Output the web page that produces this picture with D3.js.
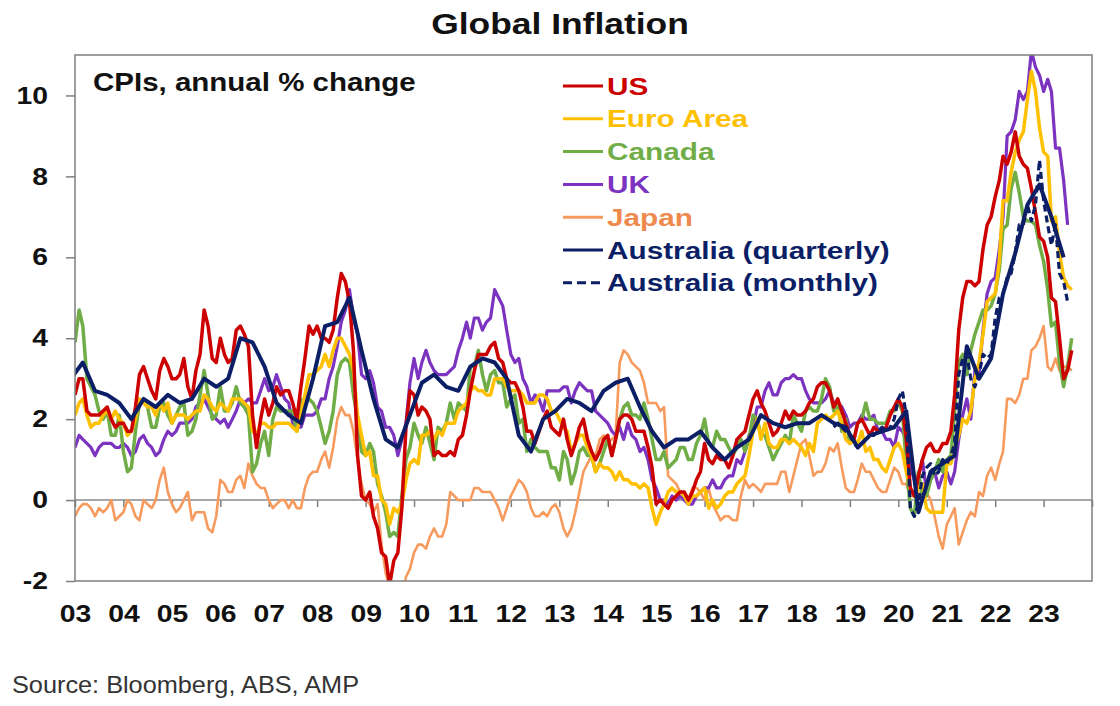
<!DOCTYPE html>
<html>
<head>
<meta charset="utf-8">
<script src="https://cdn.jsdelivr.net/npm/d3@7"></script>
<style>
  body { margin: 0; background: #fff; }
  svg { display: block; }
  text { font-family: Arial, "Liberation Sans", sans-serif; }
</style>
</head>
<body>
<div id="chart"></div>
<script>
const w = 1120;
const h = 706;

// plot box
const margin = { left: 75, top: 55, right: 28, bottom: 125 };
const stretch = 1.18; // text in the source picture is a bit wide

// ---- data (annual % change) ----
// monthly, from Jan 2003
const usCpi = [
  2.6, 3.0, 3.0, 2.2, 2.1, 2.1, 2.1, 2.2, 2.3, 2.0, 1.8, 1.9,
  1.9, 1.7, 1.7, 2.3, 3.1, 3.3, 3.0, 2.7, 2.5, 3.2, 3.5, 3.3,
  3.0, 3.0, 3.1, 3.5, 2.8, 2.5, 3.2, 3.6, 4.7, 4.3, 3.5, 3.4,
  4.0, 3.6, 3.4, 3.5, 4.2, 4.3, 4.1, 3.8, 2.1, 1.3, 2.0, 2.5,
  2.1, 2.4, 2.8, 2.6, 2.7, 2.7, 2.4, 2.0, 2.8, 3.5, 4.3, 4.1,
  4.3, 4.0, 4.0, 3.9, 4.2, 5.0, 5.6, 5.4, 4.9, 3.7, 1.1, 0.1,
  0.0, 0.2, -0.4, -0.7, -1.3, -1.4, -2.1, -1.5, -1.3, -0.2, 1.8, 2.7,
  2.6, 2.1, 2.3, 2.2, 2.0, 1.1, 1.2, 1.1, 1.1, 1.2, 1.1, 1.5,
  1.6, 2.1, 2.7, 3.2, 3.6, 3.6, 3.6, 3.8, 3.9, 3.5, 3.4, 3.0,
  2.9, 2.9, 2.7, 2.3, 1.7, 1.7, 1.4, 1.7, 2.0, 2.2, 1.8, 1.7,
  1.6, 2.0, 1.5, 1.1, 1.4, 1.8, 2.0, 1.5, 1.2, 1.0, 1.2, 1.5,
  1.6, 1.1, 1.5, 2.0, 2.1, 2.1, 2.0, 1.7, 1.7, 1.7, 1.3, 0.8,
  -0.1, 0.0, -0.1, -0.2, 0.0, 0.1, 0.2, 0.2, 0.0, 0.2, 0.5, 0.7,
  1.4, 1.0, 0.9, 1.1, 1.0, 1.0, 0.8, 1.1, 1.5, 1.6, 1.7, 2.1,
  2.5, 2.7, 2.4, 2.2, 1.9, 1.6, 1.7, 1.9, 2.2, 2.0, 2.2, 2.1,
  2.1, 2.2, 2.4, 2.5, 2.8, 2.9, 2.9, 2.7, 2.3, 2.5, 2.2, 1.9,
  1.6, 1.5, 1.9, 2.0, 1.8, 1.6, 1.8, 1.7, 1.7, 1.8, 2.1, 2.3,
  2.5, 2.3, 1.5, 0.3, 0.1, 0.6, 1.0, 1.3, 1.4, 1.2, 1.2, 1.4,
  1.4, 1.7, 2.6, 4.2, 5.0, 5.4, 5.4, 5.3, 5.4, 6.2, 6.8, 7.0,
  7.5, 7.9, 8.5, 8.3, 8.6, 9.1, 8.5, 8.3, 8.2, 7.7, 7.1, 6.5,
  6.4, 6.0, 5.0, 4.9, 4.0, 3.0, 3.2, 3.7
];

const euroCpi = [
  2.1, 2.4, 2.5, 2.1, 1.8, 1.9, 1.9, 2.1, 2.2, 2.0, 2.2, 2.0,
  1.9, 1.6, 1.7, 2.0, 2.5, 2.4, 2.3, 2.3, 2.1, 2.4, 2.2, 2.4,
  1.9, 2.1, 2.1, 2.1, 2.0, 2.1, 2.2, 2.2, 2.6, 2.5, 2.3, 2.2,
  2.4, 2.3, 2.2, 2.5, 2.5, 2.5, 2.4, 2.3, 1.7, 1.6, 1.9, 1.9,
  1.8, 1.8, 1.9, 1.9, 1.9, 1.9, 1.8, 1.7, 2.1, 2.6, 3.1, 3.1,
  3.2, 3.3, 3.6, 3.3, 3.7, 4.0, 4.0, 3.8, 3.6, 3.2, 2.1, 1.6,
  1.1, 1.2, 0.6, 0.6, 0.0, -0.1, -0.6, -0.2, -0.3, -0.1, 0.5, 0.9,
  1.0, 0.9, 1.6, 1.6, 1.7, 1.5, 1.7, 1.6, 1.9, 1.9, 1.9, 2.2,
  2.3, 2.4, 2.7, 2.8, 2.7, 2.7, 2.6, 2.6, 3.0, 3.0, 3.0, 2.8,
  2.7, 2.7, 2.7, 2.6, 2.4, 2.4, 2.4, 2.6, 2.6, 2.5, 2.2, 2.2,
  2.0, 1.8, 1.7, 1.2, 1.4, 1.6, 1.6, 1.3, 1.1, 0.7, 0.9, 0.8,
  0.8, 0.7, 0.5, 0.7, 0.5, 0.5, 0.4, 0.4, 0.3, 0.4, 0.3, -0.2,
  -0.6, -0.3, -0.1, 0.2, 0.3, 0.2, 0.2, 0.1, -0.1, 0.1, 0.1, 0.2,
  0.3, -0.2, 0.0, -0.2, -0.1, 0.1, 0.2, 0.2, 0.4, 0.5, 0.6, 1.1,
  1.7, 2.0, 1.5, 1.9, 1.4, 1.3, 1.3, 1.5, 1.5, 1.4, 1.5, 1.4,
  1.3, 1.1, 1.4, 1.2, 1.9, 2.0, 2.1, 2.0, 2.1, 2.2, 1.9, 1.5,
  1.4, 1.5, 1.4, 1.7, 1.2, 1.3, 1.0, 1.0, 0.8, 0.7, 1.0, 1.3,
  1.4, 1.2, 0.7, 0.3, 0.1, 0.3, 0.4, -0.2, -0.3, -0.3, -0.3, -0.3,
  0.9, 0.9, 1.3, 1.6, 2.0, 1.9, 2.2, 3.0, 3.4, 4.1, 4.9, 5.0,
  5.1, 5.9, 7.4, 7.4, 8.1, 8.6, 8.9, 9.1, 9.9, 10.6, 10.1, 9.2,
  8.6, 8.5, 6.9, 7.0, 6.1, 5.5, 5.3, 5.2
];

const canadaCpi = [
  3.9, 4.7, 4.3, 3.0, 2.8, 2.6, 2.2, 2.0, 2.2, 1.6, 1.6, 2.1,
  1.2, 0.7, 0.8, 1.7, 2.4, 2.5, 2.3, 1.8, 1.8, 2.3, 2.4, 2.1,
  1.9, 2.1, 2.3, 2.4, 1.6, 1.7, 2.0, 2.6, 3.2, 2.6, 2.0, 2.1,
  2.8, 2.2, 2.2, 2.4, 2.8, 2.4, 2.3, 2.1, 0.7, 0.9, 1.4, 1.7,
  1.1, 2.0, 2.3, 2.2, 2.2, 2.2, 2.2, 1.7, 2.5, 2.4, 2.5, 2.4,
  2.2, 1.8, 1.4, 1.7, 2.2, 3.1, 3.4, 3.5, 3.4, 2.6, 2.0, 1.2,
  1.1, 1.4, 1.2, 0.4, 0.1, -0.3, -0.9, -0.8, -0.9, 0.1, 1.0, 1.3,
  1.9, 1.6, 1.4, 1.8, 1.4, 1.0, 1.8, 1.7, 1.9, 2.4, 2.0, 2.4,
  2.3, 2.2, 3.3, 3.3, 3.7, 3.1, 2.7, 3.1, 3.2, 2.9, 2.9, 2.3,
  2.5, 2.6, 1.9, 2.0, 1.2, 1.5, 1.3, 1.2, 1.2, 1.2, 0.8, 0.8,
  0.5, 1.2, 1.0, 0.4, 0.7, 1.2, 1.3, 1.1, 1.1, 0.7, 0.9, 1.2,
  1.5, 1.1, 1.5, 2.0, 2.3, 2.4, 2.1, 2.1, 2.0, 2.4, 2.0, 1.5,
  1.0, 1.0, 1.2, 0.8, 0.9, 1.0, 1.3, 1.3, 1.0, 1.0, 1.4, 1.6,
  2.0, 1.4, 1.3, 1.7, 1.5, 1.5, 1.3, 1.1, 1.3, 1.5, 1.2, 1.5,
  2.1, 2.0, 1.6, 1.6, 1.3, 1.0, 1.2, 1.4, 1.6, 1.4, 2.1, 1.9,
  1.7, 2.2, 2.3, 2.2, 2.2, 2.5, 3.0, 2.8, 2.2, 2.4, 1.7, 2.0,
  1.4, 1.5, 1.9, 2.0, 2.4, 2.0, 2.0, 1.9, 1.9, 1.9, 2.2, 2.2,
  2.4, 2.2, 0.9, -0.2, -0.4, 0.7, 0.1, 0.1, 0.5, 0.7, 1.0, 0.7,
  1.0, 1.1, 2.2, 3.4, 3.6, 3.1, 3.7, 4.1, 4.4, 4.7, 4.7, 4.8,
  5.1, 5.7, 6.7, 6.8, 7.7, 8.1, 7.6, 7.0, 6.9, 6.9, 6.8, 6.3,
  5.9, 5.2, 4.3, 4.4, 3.4, 2.8, 3.3, 4.0
];

const ukCpi = [
  1.3, 1.6, 1.5, 1.4, 1.3, 1.1, 1.3, 1.4, 1.4, 1.4, 1.3, 1.3,
  1.4, 1.3, 1.1, 1.2, 1.5, 1.6, 1.4, 1.3, 1.1, 1.2, 1.5, 1.7,
  1.6, 1.7, 1.9, 1.9, 1.9, 2.0, 2.3, 2.4, 2.5, 2.3, 2.1, 2.0,
  1.9, 2.0, 1.8, 2.0, 2.2, 2.5, 2.4, 2.5, 2.4, 2.4, 2.7, 3.0,
  2.7, 2.8, 3.1, 2.8, 2.5, 2.4, 1.9, 1.8, 1.8, 2.1, 2.1, 2.1,
  2.2, 2.5, 2.5, 3.0, 3.3, 3.8, 4.4, 4.7, 5.2, 4.5, 4.1, 3.1,
  3.0, 3.2, 2.9, 2.3, 2.2, 1.8, 1.8, 1.6, 1.1, 1.5, 1.9, 2.9,
  3.5, 3.0, 3.4, 3.7, 3.4, 3.2, 3.1, 3.1, 3.1, 3.2, 3.3, 3.7,
  4.0, 4.4, 4.0, 4.5, 4.5, 4.2, 4.4, 4.5, 5.2, 5.0, 4.8, 4.2,
  3.6, 3.4, 3.5, 3.0, 2.8, 2.4, 2.6, 2.5, 2.2, 2.7, 2.7, 2.7,
  2.7, 2.8, 2.8, 2.4, 2.7, 2.9, 2.8, 2.7, 2.7, 2.2, 2.1, 2.0,
  1.9, 1.7, 1.6, 1.8, 1.5, 1.9, 1.6, 1.5, 1.2, 1.3, 1.0, 0.5,
  0.3, 0.0, 0.0, -0.1, 0.1, 0.0, 0.1, 0.0, -0.1, -0.1, 0.1, 0.2,
  0.3, 0.3, 0.5, 0.3, 0.3, 0.5, 0.6, 0.6, 1.0, 0.9, 1.2, 1.6,
  1.8, 2.3, 2.3, 2.7, 2.9, 2.6, 2.6, 2.9, 3.0, 3.0, 3.1, 3.0,
  3.0, 2.7, 2.5, 2.4, 2.4, 2.4, 2.5, 2.7, 2.4, 2.4, 2.3, 2.1,
  1.8, 1.9, 1.9, 2.1, 2.0, 2.0, 2.1, 1.7, 1.7, 1.5, 1.5, 1.3,
  1.8, 1.7, 1.5, 0.8, 0.5, 0.6, 1.0, 0.2, 0.5, 0.7, 0.3, 0.6,
  0.7, 0.4, 0.7, 1.5, 2.1, 2.5, 2.0, 3.2, 3.1, 4.2, 5.1, 5.4,
  5.5, 6.2, 7.0, 9.0, 9.1, 9.4, 10.1, 9.9, 10.1, 11.1, 10.7, 10.5,
  10.1, 10.4, 10.1, 8.7, 8.7, 7.9, 6.8
];

const japanCpi = [
  -0.4, -0.2, -0.1, -0.1, -0.2, -0.4, -0.2, -0.3, -0.2, 0.0, -0.5, -0.4,
  -0.3, 0.0, -0.1, -0.4, -0.5, 0.0, -0.1, -0.2, 0.0, 0.5, 0.8, 0.2,
  -0.1, -0.3, -0.2, 0.0, 0.2, -0.5, -0.3, -0.3, -0.3, -0.7, -0.8, -0.4,
  0.5, 0.4, 0.2, 0.2, 0.5, 0.6, 0.3, 0.9, 0.6, 0.4, 0.3, 0.3,
  0.0, -0.2, -0.1, 0.0, 0.0, -0.2, 0.0, -0.2, -0.2, 0.3, 0.6, 0.7,
  0.7, 1.0, 1.2, 0.8, 1.3, 2.0, 2.3, 2.1, 2.1, 1.7, 1.0, 0.4,
  0.0, -0.1, -0.3, -0.1, -1.1, -1.8, -2.2, -2.2, -2.2, -2.5, -1.9, -1.7,
  -1.3, -1.1, -1.1, -1.2, -0.9, -0.7, -0.9, -0.9, -0.6, 0.2, 0.1, 0.0,
  0.0, 0.0, 0.0, 0.3, 0.3, 0.2, 0.2, 0.2, 0.0, -0.2, -0.5, -0.2,
  0.1, 0.3, 0.5, 0.4, 0.2, -0.2, -0.4, -0.4, -0.3, -0.4, -0.2, -0.1,
  -0.3, -0.7, -0.9, -0.7, -0.3, 0.2, 0.7, 0.9, 1.1, 1.1, 1.5, 1.6,
  1.4, 1.5, 1.6, 3.4, 3.7, 3.6, 3.4, 3.3, 3.2, 2.9, 2.4, 2.4,
  2.4, 2.2, 2.3, 0.6, 0.5, 0.4, 0.2, 0.2, 0.0, 0.3, 0.3, 0.2,
  0.0, 0.3, -0.1, -0.3, -0.5, -0.4, -0.4, -0.5, -0.5, 0.1, 0.5, 0.3,
  0.4, 0.3, 0.2, 0.4, 0.4, 0.4, 0.4, 0.7, 0.7, 0.2, 0.6, 1.0,
  1.4, 1.5, 1.1, 0.6, 0.7, 0.7, 0.9, 1.3, 1.2, 1.4, 0.8, 0.3,
  0.2, 0.2, 0.5, 0.9, 0.7, 0.7, 0.5, 0.3, 0.2, 0.2, 0.5, 0.8,
  0.7, 0.4, 0.4, 0.1, 0.1, 0.1, 0.3, 0.2, 0.0, -0.4, -0.9, -1.2,
  -0.6, -0.4, -0.2, -1.1, -0.8, -0.5, -0.3, -0.4, 0.2, 0.1, 0.6, 0.8,
  0.5, 0.9, 1.2, 2.5, 2.5, 2.4, 2.6, 3.0, 3.0, 3.7, 3.8, 4.0,
  4.3, 3.3, 3.2, 3.5, 3.2, 3.3, 3.3, 3.2
];

// quarterly, from Dec 2002
const ausQuarterly = [
  3.0,
  3.4, 2.7, 2.6, 2.4,
  2.0, 2.5, 2.3, 2.6,
  2.4, 2.5, 3.0, 2.8,
  3.0, 4.0, 3.9, 3.3,
  2.4, 2.1, 1.9, 3.0,
  4.3, 4.4, 5.0, 3.7,
  2.5, 1.5, 1.3, 2.1,
  2.9, 3.1, 2.8, 2.7,
  3.3, 3.5, 3.4, 3.0,
  1.6, 1.2, 2.0, 2.2,
  2.5, 2.4, 2.2, 2.7,
  2.9, 3.0, 2.3, 1.7,
  1.3, 1.5, 1.5, 1.7,
  1.3, 1.0, 1.3, 1.5,
  2.1, 1.9, 1.8, 1.9,
  1.9, 2.1, 1.9, 1.8,
  1.3, 1.6, 1.7, 1.8,
  2.2, -0.3, 0.7, 0.9,
  1.1, 3.8, 3.0, 3.5,
  5.1, 6.1, 7.3, 7.8,
  7.0, 6.0
];

// monthly indicator, from Sep 2018
const ausMonthly = [
  1.8, 1.9, 1.8, 1.7,
  1.6, 1.4, 1.3, 1.4, 1.5, 1.6, 1.6, 1.7, 1.8, 1.7, 1.8, 2.0,
  2.5, 2.7, 2.1, -0.2, -0.4, -0.1, 0.6, 0.8, 0.9, 0.6, 0.7, 1.0,
  0.9, 1.1, 1.4, 3.1, 3.5, 3.6, 3.0, 2.8, 3.1, 3.6, 3.5, 3.6,
  4.5, 5.0, 5.1, 5.5, 5.6, 6.1, 6.8, 6.8, 7.3, 6.9, 7.3, 8.4,
  7.4, 6.8, 6.3, 6.8, 5.6, 5.4, 4.9
];

const yTicks = [-2, 0, 2, 4, 6, 8, 10];

const series = [
  { name: "Japan", values: japanCpi, start: new Date(2003, 0, 1), step: 1, color: "#F79A5E", width: 2.6 },
  { name: "UK", values: ukCpi, start: new Date(2003, 0, 1), step: 1, color: "#7B33C0", width: 3.2 },
  { name: "Canada", values: canadaCpi, start: new Date(2003, 0, 1), step: 1, color: "#70AD47", width: 3.5 },
  { name: "Euro Area", values: euroCpi, start: new Date(2003, 0, 1), step: 1, color: "#FFC000", width: 3.5 },
  { name: "US", values: usCpi, start: new Date(2003, 0, 1), step: 1, color: "#CC0000", width: 3.5 },
  { name: "Australia (monthly)", values: ausMonthly, start: new Date(2018, 8, 1), step: 1, color: "#0C1F66", width: 3.2, dash: "7,4" },
  { name: "Australia (quarterly)", values: ausQuarterly, start: new Date(2002, 11, 1), step: 3, color: "#0C1F66", width: 4 }
];

const legendOrder = ["US", "Euro Area", "Canada", "UK", "Japan", "Australia (quarterly)", "Australia (monthly)"];

// ---- chart ----
const svg = d3.select("#chart")
    .append("svg")
    .attr("width", w)
    .attr("height", h);

const x = d3.scaleTime()
    .domain([new Date(2003, 0, 1), new Date(2024, 0, 1)])
    .range([margin.left, w - margin.right]);

const y = d3.scaleLinear()
    .domain([-2, 11])
    .range([h - margin.bottom, margin.top]);

const plotW = x.range()[1] - x.range()[0];
const plotH = y.range()[0] - y.range()[1];

// title
svg.append("text")
    .attr("transform", "translate(560,34) scale(" + stretch + ",1)")
    .attr("text-anchor", "middle")
    .attr("font-size", 30)
    .attr("font-weight", "bold")
    .attr("fill", "#111")
    .text("Global Inflation");

// zero line + year ticks
const zeroAxis = svg.append("g")
    .attr("transform", "translate(0," + y(0) + ")")
    .call(d3.axisBottom(x).ticks(d3.timeYear.every(1)).tickSize(7).tickFormat(""));
zeroAxis.select(".domain").remove();
zeroAxis.selectAll("line").attr("stroke", "#7f7f7f").attr("stroke-width", 1.5);
svg.append("line")
    .attr("x1", x.range()[0]).attr("x2", x.range()[1])
    .attr("y1", y(0)).attr("y2", y(0))
    .attr("stroke", "#8a8a8a")
    .attr("stroke-width", 1.5);

// year labels under the plot
const yearAxis = svg.append("g")
    .attr("transform", "translate(0," + (h - margin.bottom) + ")")
    .call(d3.axisBottom(x)
        .tickValues(d3.timeYear.range(new Date(2003, 0, 1), new Date(2024, 0, 1)))
        .tickSize(0)
        .tickPadding(24)
        .tickFormat(d3.timeFormat("%y")));
yearAxis.select(".domain").remove();
yearAxis.selectAll("text")
    .attr("font-size", 24)
    .attr("font-weight", "bold")
    .attr("font-family", "Arial, 'Liberation Sans', sans-serif")
    .attr("fill", "#111")
    .attr("transform", "scale(" + stretch + ",1)");

// y axis (plain hyphen for negatives, as in the source)
const yAxis = svg.append("g")
    .attr("transform", "translate(" + margin.left + ",0)")
    .call(d3.axisLeft(y).tickValues(yTicks).tickSize(9).tickPadding(18).tickFormat(d => String(d)));
yAxis.select(".domain").remove();
yAxis.selectAll("line").attr("stroke", "#7f7f7f").attr("stroke-width", 1.5);
yAxis.selectAll("text")
    .attr("font-size", 24)
    .attr("font-weight", "bold")
    .attr("font-family", "Arial, 'Liberation Sans', sans-serif")
    .attr("fill", "#111")
    .each(function() {
        const t = d3.select(this);
        const tx = +t.attr("x");
        t.attr("x", 0).attr("transform", "translate(" + tx + ",0) scale(" + stretch + ",1)");
    });

// clip for the lines
svg.append("clipPath")
    .attr("id", "plotClip")
    .append("rect")
    .attr("x", x.range()[0])
    .attr("y", y.range()[1])
    .attr("width", plotW)
    .attr("height", plotH);

const line = d3.line()
    .x(d => x(d.date))
    .y(d => y(d.v));

const lines = svg.append("g").attr("clip-path", "url(#plotClip)");

series.forEach(s => {
    const pts = s.values.map((v, i) => ({ date: d3.timeMonth.offset(s.start, i * s.step), v: v }));
    lines.append("path")
        .datum(pts)
        .attr("fill", "none")
        .attr("stroke", s.color)
        .attr("stroke-width", s.width)
        .attr("stroke-linejoin", "round")
        .attr("stroke-dasharray", s.dash || null)
        .attr("d", line);
});

// frame
svg.append("rect")
    .attr("x", x.range()[0])
    .attr("y", y.range()[1])
    .attr("width", plotW)
    .attr("height", plotH)
    .attr("fill", "none")
    .attr("stroke", "#7f7f7f")
    .attr("stroke-width", 1.5);

// subtitle inside the plot
svg.append("text")
    .attr("transform", "translate(93,91) scale(" + stretch + ",1)")
    .attr("font-size", 25)
    .attr("font-weight", "bold")
    .attr("fill", "#111")
    .text("CPIs, annual % change");

// legend
const legend = svg.append("g");
legendOrder.forEach((name, i) => {
    const s = series.find(d => d.name === name);
    const ly = 86 + i * 32.8;
    legend.append("line")
        .attr("x1", 563).attr("x2", 603)
        .attr("y1", ly).attr("y2", ly)
        .attr("stroke", s.color)
        .attr("stroke-width", 3)
        .attr("stroke-dasharray", s.dash ? "9,5" : null);
    legend.append("text")
        .attr("transform", "translate(607," + (ly + 8.5) + ") scale(1.24,1)")
        .attr("font-size", 24)
        .attr("font-weight", "bold")
        .attr("fill", s.color === "#F79A5E" ? "#EE8A4E" : s.color)
        .text(name);
});

// source note
svg.append("text")
    .attr("transform", "translate(12,693) scale(1.1,1)")
    .attr("font-family", "Lato, 'Open Sans', sans-serif")
    .attr("font-weight", 300)
    .attr("font-size", 23)
    .attr("fill", "#333")
    .text("Source: Bloomberg, ABS, AMP");
</script>
</body>
</html>
